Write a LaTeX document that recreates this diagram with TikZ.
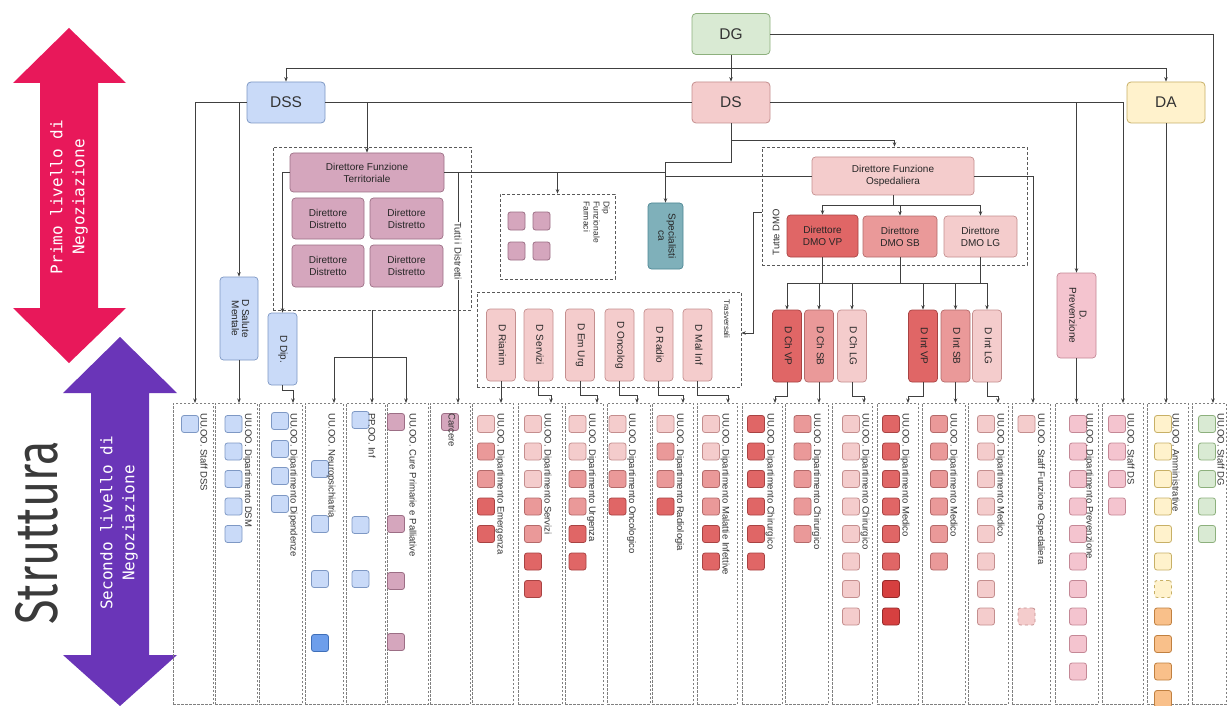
\documentclass[tikz,border=0pt]{standalone}
\usepackage{fontspec}
\usepackage{graphicx}
\setmainfont{Liberation Sans}
\newfontfamily\monofont{DejaVu Sans Mono}
\newfontfamily\strufont{Fira Sans}
\usetikzlibrary{arrows.meta}
\definecolor{fL}{HTML}{F4CCCC}\definecolor{dL}{HTML}{C48E8E}
\definecolor{fM}{HTML}{EA9999}\definecolor{dM}{HTML}{B46A6A}
\definecolor{fR}{HTML}{E06666}\definecolor{dR}{HTML}{A84343}
\definecolor{fD}{HTML}{D64040}\definecolor{dD}{HTML}{962A2A}
\definecolor{fB}{HTML}{C9DAF8}\definecolor{dB}{HTML}{7E98C4}
\definecolor{fBD}{HTML}{6D9EEB}\definecolor{dBD}{HTML}{3F6FB8}
\definecolor{fV}{HTML}{D5A6BD}\definecolor{dV}{HTML}{9C6E85}
\definecolor{fP}{HTML}{F4C4CF}\definecolor{dP}{HTML}{C48896}
\definecolor{fY}{HTML}{FFF2CC}\definecolor{dY}{HTML}{C7B066}
\definecolor{fO}{HTML}{F9C08A}\definecolor{dO}{HTML}{C08040}
\definecolor{fG}{HTML}{D9EAD3}\definecolor{dG}{HTML}{8DB07D}
\definecolor{fT}{HTML}{7FB0BA}\definecolor{dT}{HTML}{4E8794}
\definecolor{redarr}{HTML}{E8185A}
\definecolor{purarr}{HTML}{6A35B8}
\definecolor{strucol}{HTML}{3A3A3A}
\newcommand{\vtx}[1]{\rotatebox{-90}{\begin{tabular}{@{}c@{}}#1\end{tabular}}}
\newcommand{\sqrow}[3]{\foreach \k/\s in {#3}{\node[sq,fill=f\s,draw=d\s] (#1-\k) at (#2,{424+27.5*\k}) {};}}
\newcommand{\sqat}[3]{\foreach \k/\yy/\s in {#3}{\node[sq,fill=f\s,draw=d\s] (#1-\k) at (#2,\yy) {};}}
\renewcommand{\arraystretch}{0.85}
\begin{document}
\begin{tikzpicture}[x=1pt,y=-1pt,
  conn/.style={draw=black!75,line width=0.7pt},
  arr/.style={conn,-{Stealth[length=4.5pt,width=3.5pt]}},
  grp/.style={draw=black!65,dash pattern=on 3pt off 2pt,line width=0.7pt,inner sep=0},
  colbox/.style={draw=black!50,dash pattern=on 2.5pt off 1.5pt,line width=0.6pt,inner sep=0,minimum height=301},
  topn/.style={rounded corners=4pt,line width=0.8pt,minimum width=78,minimum height=41,inner sep=0,font=\fontsize{15.5}{16}\selectfont,text=black!80},
  bx/.style={rounded corners=3.5pt,line width=0.7pt,inner sep=0,align=center,font=\fontsize{10}{12}\selectfont,text=black!85},
  dn/.style={bx,minimum width=29,minimum height=72},
  sq/.style={minimum width=17,minimum height=17,inner sep=0,rounded corners=2.5pt,line width=0.8pt},
  ctext/.style={rotate=-90,anchor=west,inner sep=0,font=\fontsize{9.5}{10}\selectfont,text=black!80},
  lbl/.style={inner sep=0.5pt,font=\fontsize{9.5}{10}\selectfont,text=black!80}]
\useasboundingbox (0,0) rectangle (1227,706);
\fill[white] (0,0) rectangle (1227,706);

% big arrows
\fill[redarr] (69,28) -- (126,83) -- (98,83) -- (98,308) -- (126,308) -- (69,363) -- (13,308) -- (40,308) -- (40,83) -- (13,83) -- cycle;
\fill[purarr] (120,337) -- (177,393) -- (149,393) -- (149,655) -- (177,655) -- (120,706) -- (63,655) -- (91,655) -- (91,393) -- (63,393) -- cycle;
\node[rotate=90,text=white,font=\monofont\fontsize{16}{22}\selectfont,align=center] (lab1) at (69,197) {Primo livello di\\Negoziazione};
\node[rotate=90,text=white,font=\monofont\fontsize{16}{22}\selectfont,align=center] (lab2) at (119,523) {Secondo livello di\\Negoziazione};
\node[rotate=90,text=strucol,font=\strufont\fontsize{60}{60}\selectfont,inner sep=0] (stru) at (37,533) {\scalebox{0.75}[1]{Struttura}};

% columns
\foreach \i/\l/\r/\ax in {1/173/213/195, 2/215/257/239, 3/259/302/293, 4/305/343/334, 5/346/385/372, 6/387/428/406, 7/430/470/458, 8/472/513/501, 9/518/562/551, 10/565/603/597, 11/607/650/637, 12/652/693/683, 13/697/737/728, 14/742/782/775, 15/785/828/819, 16/832/872/864, 17/877/918/908, 18/922/965/955.5, 19/968/1008/998, 20/1012/1050/1033, 21/1055/1098/1076.5, 22/1102/1143/1123, 23/1147/1188/1166, 24/1192/1226/1213}{
  \node[colbox,minimum width={\r-\l}] (c\i) at ({(\l+\r)/2},553.5) {};
  \coordinate (e\i) at (\ax,403);
}

% squares
\sqrow{s1}{190}{0/B}
\sqrow{s2}{233.5}{0/B,1/B,2/B,3/B,4/B}
\sqat{s3}{280}{0/421/B,1/449/B,2/476/B,3/504/B}
\sqat{s4}{320}{0/469/B,1/524/B,2/579/B,3/643/BD}
\sqat{s5}{360.5}{0/420/B,1/525/B,2/579/B}
\sqat{s6}{396}{0/422/V,1/524/V,2/581/V,3/642/V}
\sqat{s7}{450}{0/422/V}
\sqrow{s8}{486}{0/L,1/M,2/M,3/R,4/R}
\sqrow{s9}{533}{0/L,1/L,2/L,3/M,4/M,5/R,6/R}
\sqrow{s10}{577.5}{0/L,1/L,2/M,3/M,4/R,5/R}
\sqrow{s11}{617.5}{0/L,1/L,2/M,3/R}
\sqrow{s12}{665.5}{0/L,1/M,2/M,3/R}
\sqrow{s13}{711}{0/L,1/L,2/M,3/M,4/R,5/R}
\sqrow{s14}{756}{0/R,1/R,2/R,3/R,4/R,5/R}
\sqrow{s15}{802.5}{0/M,1/M,2/M,3/M,4/M}
\sqrow{s16}{851}{0/L,1/L,2/L,3/L,4/L,5/L,6/L,7/L}
\sqrow{s17}{891}{0/R,1/R,2/R,3/R,4/R,5/R,6/D,7/D}
\sqrow{s18}{939}{0/M,1/M,2/M,3/M,4/M,5/M}
\sqrow{s19}{986}{0/L,1/L,2/L,3/L,4/L,5/L,6/L,7/L}
\sqrow{s20}{1026.5}{0/L}
\node[sq,fill=fL,draw=dL,dashed] (s20-7) at (1026.5,616.5) {};
\sqrow{s21}{1078}{0/P,1/P,2/P,3/P,4/P,5/P,6/P,7/P,8/P,9/P}
\sqrow{s22}{1117}{0/P,1/P,2/P,3/P}
\sqrow{s23}{1163}{0/Y,1/Y,2/Y,3/Y,4/Y,5/Y,7/O,8/O,9/O,10/O}
\node[sq,fill=fY,draw=dY,dashed] (s23-6) at (1163,589) {};
\sqrow{s24}{1207}{0/G,1/G,2/G,3/G,4/G}

% column texts
\node[ctext] (t1) at (204,413) {UU.OO. Staff DSS};
\node[ctext] (t2) at (247.5,413) {UU.OO. Dipartimento DSM};
\node[ctext] (t3) at (293,413) {UU.OO. Dipartimento Dipendenze};
\node[ctext] (t4) at (331,413) {UU.OO. Neuropsichiatria};
\node[ctext] (t5) at (372,413) {PP.OO. Inf};
\node[ctext] (t6) at (413,413) {UU.OO. Cure Primarie e Palliative};
\node[ctext] (t7) at (452,413) {Carcere};
\node[ctext] (t8) at (500,413) {UU.OO. Dipartimento Emergenza};
\node[ctext] (t9) at (547,413) {UU.OO. Dipartimento Servizi};
\node[ctext] (t10) at (591.5,413) {UU.OO. Dipartimento Urgenza};
\node[ctext] (t11) at (631.5,413) {UU.OO. Dipartimento Oncologico};
\node[ctext] (t12) at (679.5,413) {UU.OO. Dipartimento Radiologia};
\node[ctext] (t13) at (725,413) {UU.OO. Dipartimento Malattie Infettive};
\node[ctext] (t14) at (770,413) {UU.OO. Dipartimento Chirurgico};
\node[ctext] (t15) at (816.5,413) {UU.OO. Dipartimento Chirurgico};
\node[ctext] (t16) at (865,413) {UU.OO. Dipartimento Chirurgico};
\node[ctext] (t17) at (905,413) {UU.OO. Dipartimento Medico};
\node[ctext] (t18) at (953,413) {UU.OO. Dipartimento Medico};
\node[ctext] (t19) at (1000,413) {UU.OO. Dipartimento Medico};
\node[ctext] (t20) at (1040.5,413) {UU.OO. Staff Funzione Ospedaliera};
\node[ctext] (t21) at (1089,413) {UU.OO. Dipartimento Prevenzione};
\node[ctext] (t22) at (1131,413) {UU.OO. Staff DS};
\node[ctext] (t23) at (1176,413) {UU.OO. Amministrative};
\node[ctext] (t24) at (1221,413) {UU.OO. Staff DG};

% top nodes
\node[topn,fill=fG,draw=dG] (DG) at (731,34) {DG};
\node[topn,fill=fL,draw=dL] (DS) at (731,102.5) {DS};
\node[topn,fill=fB,draw=dB] (DSS) at (286,102.5) {DSS};
\node[topn,fill=fY,draw=dY] (DA) at (1166,102.5) {DA};

% groups
\node[grp,minimum width=198,minimum height=163] (tg) at (372,228.5) {};
\node[grp,minimum width=115,minimum height=85] (fg) at (557.5,236.5) {};
\node[grp,minimum width=265,minimum height=118] (og) at (894.5,206) {};
\node[grp,minimum width=264,minimum height=95] (trg) at (609,339.5) {};

% territorial
\node[bx,fill=fV,draw=dV,minimum width=154,minimum height=39] (Terr) at (367,172.5) {Direttore Funzione\\Territoriale};
\node[bx,fill=fV,draw=dV,minimum width=72,minimum height=41] (Dist1) at (328,218.5) {Direttore\\Distretto};
\node[bx,fill=fV,draw=dV,minimum width=73,minimum height=41] (Dist2) at (406.5,218.5) {Direttore\\Distretto};
\node[bx,fill=fV,draw=dV,minimum width=72,minimum height=42] (Dist3) at (328,266) {Direttore\\Distretto};
\node[bx,fill=fV,draw=dV,minimum width=73,minimum height=42] (Dist4) at (406.5,266) {Direttore\\Distretto};
\node[bx,fill=fB,draw=dB,minimum width=38,minimum height=83] (DSM) at (239,318.5) {\vtx{D Salute\\Mentale}};
\node[bx,fill=fB,draw=dB,minimum width=29,minimum height=72] (DDip) at (282.5,349) {\vtx{D Dip.}};

% farmaci
\node[sq,fill=fV,draw=dV,minimum height=18] (f1) at (516.5,221) {};
\node[sq,fill=fV,draw=dV,minimum height=18] (f2) at (541.5,221) {};
\node[sq,fill=fV,draw=dV,minimum height=18] (f3) at (516.5,251) {};
\node[sq,fill=fV,draw=dV,minimum height=18] (f4) at (541.5,251) {};
\node[rotate=-90,anchor=north west,align=left,inner sep=0,font=\fontsize{8.5}{10}\selectfont,text=black!80] (ftxt) at (610,201) {Dip\\Funzionale\\Farmaci};
\node[bx,fill=fT,draw=dT,minimum width=35,minimum height=66] (Spec) at (665.5,236) {\vtx{Specialisti\\ca}};

% ospedaliera
\node[bx,fill=fL,draw=dL,minimum width=162,minimum height=38] (Osp) at (893,176) {Direttore Funzione\\Ospedaliera};
\node[bx,fill=fR,draw=dR,minimum width=71,minimum height=42] (DMOVP) at (822.5,236) {Direttore\\DMO VP};
\node[bx,fill=fM,draw=dM,minimum width=74,minimum height=41] (DMOSB) at (900,236.5) {Direttore\\DMO SB};
\node[bx,fill=fL,draw=dL,minimum width=73,minimum height=41] (DMOLG) at (980.5,236.5) {Direttore\\DMO LG};
\node[lbl,rotate=90] (tdmo) at (776,232) {Tutte DMO};

% trasversali
\node[lbl,rotate=-90,font=\fontsize{8}{9}\selectfont] (trtxt) at (727,319) {Trasversali};
\node[dn,fill=fL,draw=dL] (DRian) at (501,345) {\vtx{D Rianim}};
\node[dn,fill=fL,draw=dL] (DServ) at (538.5,345) {\vtx{D Servizi}};
\node[dn,fill=fL,draw=dL] (DEm) at (580,345) {\vtx{D Em Urg}};
\node[dn,fill=fL,draw=dL] (DOnc) at (619.5,345) {\vtx{D Oncolog}};
\node[dn,fill=fL,draw=dL] (DRad) at (658.5,345) {\vtx{D Radio}};
\node[dn,fill=fL,draw=dL] (DMal) at (697.5,345) {\vtx{D Mal Inf}};

% DMO children
\node[dn,fill=fR,draw=dR] (DChVP) at (787,346) {\vtx{D Ch VP}};
\node[dn,fill=fM,draw=dM] (DChSB) at (819,346) {\vtx{D Ch SB}};
\node[dn,fill=fL,draw=dL] (DChLG) at (852,346) {\vtx{D Ch LG}};
\node[dn,fill=fR,draw=dR] (DIntVP) at (923,346) {\vtx{D Int VP}};
\node[dn,fill=fM,draw=dM] (DIntSB) at (955.5,346) {\vtx{D Int SB}};
\node[dn,fill=fL,draw=dL] (DIntLG) at (987,346) {\vtx{D Int LG}};
\node[bx,fill=fP,draw=dP,minimum width=39,minimum height=85] (Prev) at (1076.5,315.5) {\vtx{D.\\Prevenzione}};

% connectors: top
\coordinate (j68) at (731,68);
\draw[arr] (DG) -- (DS);
\draw[arr] (j68) -| (DSS.north);
\draw[arr] (j68) -| (DA.north);
\draw[arr] (DG.east) -| (e24);
\draw[arr] (DSS.west) -| (e1);
\draw[arr] (DSS.west -| DSM.north) -- (DSM.north);
\draw[arr] (DSM.south) -- (e2);
\draw[conn] (DSS.east) -- (DS.west);
\draw[arr] (DSS.east -| Terr.north) -- (Terr.north);
\draw[arr] (Terr.west) -| (DDip.north);
\draw[arr] (DDip.south) -- ++(0,5) -| (e3);
\draw[conn] (tg.south) -- ++(0,47) coordinate (b357);
\draw[arr] (b357) -| (e4);
\draw[arr] (b357) -- (e5);
\draw[arr] (b357) -| (e6);
% DS branch
\draw[arr] (DS.south) -- (731,140) -| (og.north);
\draw[arr] (DS.south) -- (731,162) -| (Spec.north);
\draw[conn] (Terr.east) -- (Terr.east -| Spec.north);
\draw[conn] (Osp.west) -- (Osp.west -| Spec.north);
\draw[arr] (Terr.east -| fg.north) -- (fg.north);
\draw[arr] (Terr.east -| e7) -- node[lbl,fill=white,rotate=-90,pos=0.34] (tdist) {Tutti i Distretti} (e7);
\draw[arr] (DS.east) -| (e22);
\draw[arr] (DS.east -| Prev.north) -- (Prev.north);
\draw[arr] (Prev.south) -- (e21);
\draw[arr] (DA.south) -- (e23);
% ospedaliera
\draw[conn] (Osp.south) -- ++(0,10) coordinate (b205);
\draw[arr] (b205) -| (DMOVP.north);
\draw[arr] (b205) -| (DMOSB.north);
\draw[arr] (b205) -| (DMOLG.north);
\draw[arr] (Osp.east) -| (e20);
\draw[arr] ([yshift=-6pt]og.west) -| ([xshift=12pt,yshift=6.5pt]trg.east) -- ([yshift=6.5pt]trg.east);
\coordinate (busL) at (787,283);
\coordinate (busR) at (987,283);
\draw[conn] (busL) -- (busR);
\draw[conn] (DMOVP.south) -- (DMOVP.south |- busL);
\draw[conn] (DMOSB.south) -- (DMOSB.south |- busL);
\draw[conn] (DMOLG.south) -- (DMOLG.south |- busL);
\foreach \n in {DChVP,DChSB,DChLG,DIntVP,DIntSB,DIntLG}{\draw[arr] (\n.north |- busL) -- (\n.north);}
% D nodes to columns
\draw[arr] (DRian.south) -- (e8);
\draw[arr] (DServ.south) -- ++(0,14) -| (e9);
\draw[arr] (DEm.south) -- ++(0,14) -| (e10);
\draw[arr] (DOnc.south) -- ++(0,14) -| (e11);
\draw[arr] (DRad.south) -- ++(0,14) -| (e12);
\draw[arr] (DMal.south) -- ++(0,14) -| (e13);
\draw[arr] (DChVP.south) -- ++(0,14) -| (e14);
\draw[arr] (DChSB.south) -- (e15);
\draw[arr] (DChLG.south) -- ++(0,14) -| (e16);
\draw[arr] (DIntVP.south) -- ++(0,14) -| (e17);
\draw[arr] (DIntSB.south) -- (e18);
\draw[arr] (DIntLG.south) -- ++(0,14) -| (e19);
\end{tikzpicture}
\end{document}
